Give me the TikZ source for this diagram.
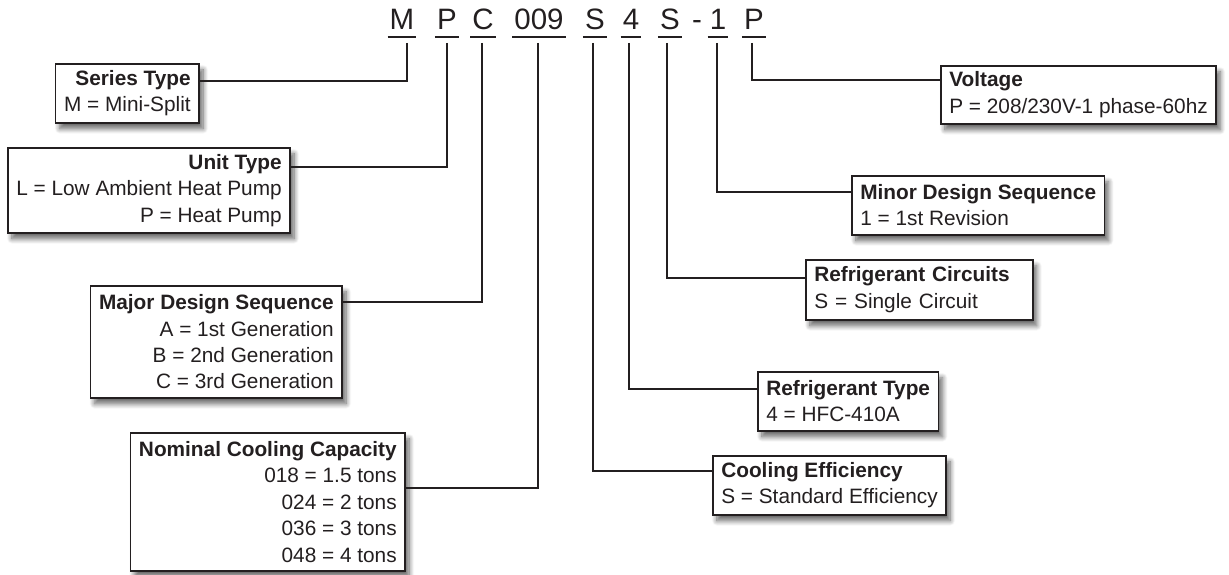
\documentclass[tikz,border=0pt]{standalone}
\usepackage{fontspec}
\setmainfont{Liberation Sans}
\usetikzlibrary{calc,shadows.blur}
\definecolor{ink}{HTML}{231F20}
\newcommand\boxfont{\fontsize{20.8}{26.4}\selectfont}
\newcommand\hdrfont{\fontsize{29.5}{30}\selectfont}
\tikzset{
  box/.style={draw=ink, line width=1.6pt, fill=white, inner xsep=8.5pt, inner ysep=0pt,
    font=\boxfont, text=ink,
    blur shadow={shadow xshift=4pt, shadow yshift=-6pt, shadow blur radius=5pt,
      shadow blur steps=10, shadow opacity=60}},
  rbox/.style={box, anchor=north east, align=right},
  lbox/.style={box, anchor=north west, align=left},
  conn/.style={draw=ink, line width=2.6pt},
  hdr/.style={font=\hdrfont, text=ink, inner sep=0pt, anchor=base},
  uline/.style={draw=ink, line width=1.8pt}
}
\begin{document}
\begin{tikzpicture}[x=1pt,y=-1pt]
\useasboundingbox (0,0) rectangle (1229,575);

% header code
\node[hdr] (hM) at (402,30) {M};
\node[hdr] (hP) at (447,30) {P};
\node[hdr] (hC) at (483,30) {C};
\node[hdr] (hN) at (539,30) {009};
\node[hdr] (hS) at (595,30) {S};
\node[hdr] (hF) at (631,30) {4};
\node[hdr] (hR) at (670,30) {S};
\node[hdr] (hD) at (697,30) {-};
\node[hdr] (hO) at (718,30) {1};
\node[hdr] (hV) at (754,30) {P};
\foreach \n in {hM,hP,hC,hN,hS,hF,hR,hO,hV}
  \draw[uline] ([xshift=-2pt,yshift=-7pt]\n.base west) -- ([xshift=2pt,yshift=-7pt]\n.base east);

% tick tops
\coordinate (tM) at (407,43);
\coordinate (tP) at (447,43);
\coordinate (tC) at (482,43);
\coordinate (tN) at (538,43);
\coordinate (tS) at (593,43);
\coordinate (tF) at (629,43);
\coordinate (tR) at (667,43);
\coordinate (tO) at (717,43);
\coordinate (tV) at (752,43);

% boxes left
\node[rbox, minimum height=59pt] (ser) at (200,63)
  {\textbf{Series Type}\\M = Mini-Split};
\node[rbox, minimum height=85pt] (unit) at (291,147)
  {\textbf{Unit Type}\\L = Low Ambient Heat Pump\\P = Heat Pump};
\node[rbox, minimum height=112pt] (maj) at (343,285)
  {\textbf{Major Design Sequence}\\A = 1st Generation\\B = 2nd Generation\\C = 3rd Generation};
\node[rbox, minimum height=138pt] (nom) at (406,432)
  {\textbf{Nominal Cooling Capacity}\\018 = 1.5 tons\\024 = 2 tons\\036 = 3 tons\\048 = 4 tons};

% boxes right
\node[lbox, minimum height=58pt] (volt) at (940,65)
  {\textbf{Voltage}\\P = 208/230V-1 phase-60hz};
\node[lbox, minimum height=59pt] (minor) at (851,175)
  {\textbf{Minor Design Sequence}\\1 = 1st Revision};
\node[lbox, text width=210pt, minimum height=60pt] (rc) at (805,259)
  {\textbf{Refrigerant Circuits}\\S = Single Circuit};
\node[lbox, minimum height=59pt] (rt) at (757,371)
  {\textbf{Refrigerant Type}\\4 = HFC-410A};
\node[lbox, minimum height=59pt] (ce) at (712,455)
  {\textbf{Cooling Efficiency}\\S = Standard Efficiency};

% connectors
\draw[conn] (tM) |- ($(ser.north east)+(0,18)$);
\draw[conn] (tP) |- ($(unit.north east)+(0,20)$);
\draw[conn] (tC) |- ($(maj.north east)+(0,17)$);
\draw[conn] (tN) |- ($(nom.north east)+(0,56)$);
\draw[conn] (tS) |- ($(ce.north west)+(0,16)$);
\draw[conn] (tF) |- ($(rt.north west)+(0,18)$);
\draw[conn] (tR) |- ($(rc.north west)+(0,19)$);
\draw[conn] (tO) |- ($(minor.north west)+(0,17)$);
\draw[conn] (tV) |- ($(volt.north west)+(0,15)$);
\end{tikzpicture}
\end{document}
